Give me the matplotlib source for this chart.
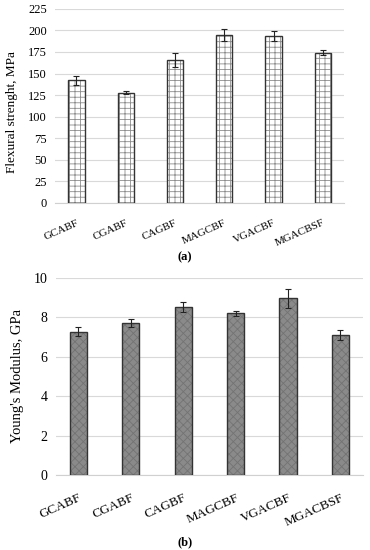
import matplotlib.pyplot as plt

plt.rcParams['font.family'] = ['Liberation Serif', 'DejaVu Serif']
plt.rcParams['hatch.linewidth'] = 0.6

samples = ['GCABF', 'CGABF', 'CAGBF', 'MAGCBF', 'VGACBF', 'MGACBSF']
flexural = [142, 128, 166, 195, 193.5, 174]
flexural_err = [5, 2, 8, 7, 5.5, 3]
modulus = [7.27, 7.70, 8.54, 8.19, 8.96, 7.09]
modulus_err = [0.23, 0.20, 0.25, 0.12, 0.47, 0.25]

fig = plt.figure(figsize=(3.7, 5.5), dpi=100)

# (a) flexural strength
ax1 = fig.add_axes([0.149, 0.631, 0.781, 0.353])
bars1 = ax1.bar(samples, flexural, width=0.33, color='white', edgecolor='#333333',
                linewidth=1.0, yerr=flexural_err, capsize=2.5,
                error_kw=dict(elinewidth=0.8, capthick=0.8, ecolor='#222222'), zorder=3)
for b in bars1:
    b.set_hatch('+++')
    b._hatch_color = (0.55, 0.55, 0.55, 1.0)
ax1.set_ylim(0, 225)
ax1.set_yticks(range(0, 226, 25))
ax1.set_ylabel('Flexural strenght, MPa', fontsize=9.5)
ax1.yaxis.set_label_coords(-0.128, 0.47)

# (b) Young's modulus
ax2 = fig.add_axes([0.151, 0.136, 0.830, 0.359])
bars2 = ax2.bar(samples, modulus, width=0.33, color='#8a8a8a', edgecolor='#333333',
                linewidth=1.0, yerr=modulus_err, capsize=2.5,
                error_kw=dict(elinewidth=0.8, capthick=0.8, ecolor='#222222'), zorder=3)
for b in bars2:
    b.set_hatch('xxxx')
    b._hatch_color = (0.45, 0.45, 0.45, 1.0)
ax2.set_ylim(0, 10)
ax2.set_yticks(range(0, 11, 2))
ax2.set_ylabel("Young's Modulus, GPa", fontsize=10.5, labelpad=7)

for ax, fs, xfs, xpad in ((ax1, 9, 8, 11), (ax2, 10, 9.5, 12)):
    for s in ('top', 'right', 'left'):
        ax.spines[s].set_visible(False)
    ax.spines['bottom'].set_color('#d0d0d0')
    ax.yaxis.grid(True, color='#d9d9d9', linewidth=0.8, zorder=0)
    ax.set_axisbelow(True)
    ax.tick_params(axis='y', length=0, labelsize=fs, pad=6)
    ax.tick_params(axis='x', length=0, pad=xpad)
    for lab in ax.get_xticklabels():
        lab.set_rotation(24)
        lab.set_ha('right')
        lab.set_rotation_mode('anchor')
        lab.set_fontsize(xfs)

fig.text(0.5, 1 - 257 / 550, '(a)', ha='center', va='center', fontsize=9,
         fontweight='bold')
fig.text(0.5, 1 - 542 / 550, '(b)', ha='center', va='center', fontsize=9,
         fontweight='bold')

fig.savefig('out.png', dpi=100)
